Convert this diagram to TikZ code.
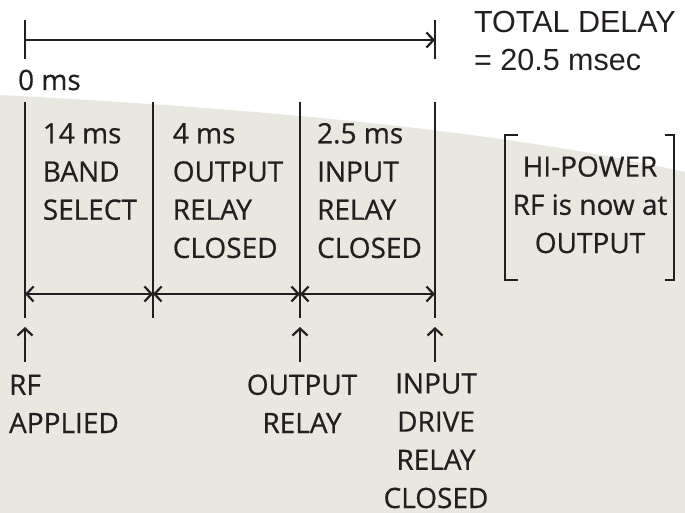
\documentclass[tikz,border=0pt]{standalone}
\usepackage{fontspec}
\setmainfont{Open Sans}
\newfontface\bodyfont{Open Sans}[FakeBold=0.6]
\newfontfamily\helv{Liberation Sans}
\usetikzlibrary{arrows.meta}
\definecolor{ink}{HTML}{231F20}
\definecolor{paper}{HTML}{E8E7E0}

\begin{document}
\begin{tikzpicture}[x=1pt, y=-1pt, color=ink, line width=2.2pt,
    >={Straight Barb[length=7pt, width=15pt]},
    lbl/.style={inner sep=0pt, align=left, font=\bodyfont\fontsize{28}{38.2}\selectfont},
    mid/.style={lbl, align=center, anchor=base}]

    \useasboundingbox (0,0) rectangle (685,513);

    % background
    \fill[paper] (0,95) .. controls (250,108) and (500,130) .. (685,172)
        -- (685,513) -- (0,513) -- cycle;

    % total delay
    \coordinate (s0) at (25,20);
    \coordinate (s1) at (25,59);
    \coordinate (e0) at (435,20);
    \coordinate (e1) at (435,59);
    \coordinate (sm) at (25,40);
    \coordinate (em) at (435,40);
    \draw (s0) -- (s1);
    \draw (e0) -- (e1);
    \draw[->] (sm) -- (em);
    \node[anchor=base west, inner sep=0pt, align=left,
        font=\helv\fontsize{30.5}{38}\selectfont] (total) at (473,71)
        {TOTAL DELAY\\= 20.5 msec};
    \node[lbl, anchor=base west] (zero) at (17,90) {0 ms};

    % steps (anchored at the last line)
    \foreach \n/\x in {a/25, b/153, c/300, d/435} {
        \coordinate (t\n) at (\x,102);
        \coordinate (b\n) at (\x,318);
        \coordinate (m\n) at (\x,294);
        \draw (t\n) -- (b\n);
    }
    \foreach \i/\j in {a/b, b/c, c/d} {
        \draw[<->] (m\i) -- (m\j);
    }
    \node[lbl, anchor=base west] (band) at (41.7,219.7) {14 ms\\BAND\\SELECT};
    \node[lbl, anchor=base west] (outc) at (171.7,257.9) {4 ms\\OUTPUT\\RELAY\\CLOSED};
    \node[lbl, anchor=base west] (inc) at (316,257.9) {2.5 ms\\INPUT\\RELAY\\CLOSED};

    % events
    \foreach \n/\x in {a/25, c/300, d/435} {
        \coordinate (p\n) at (\x,362);
        \coordinate (q\n) at (\x,327);
        \draw[->] (p\n) -- (q\n);
    }
    \node[lbl, anchor=base west] (rf) at (8,433) {RF\\APPLIED};
    \node[mid] (outrelay) at (302,433) {OUTPUT\\RELAY};
    \node[mid] (inrelay) at (436,508) {INPUT\\DRIVE\\RELAY\\CLOSED};

    % result
    \node[mid] (hipower) at (590,253) {HI-POWER\\RF is now at\\OUTPUT};
    \draw (518,135) -- (505,135) -- (505,280) -- (518,280);
    \draw (665,135) -- (674,135) -- (674,280) -- (665,280);

\end{tikzpicture}
\end{document}
